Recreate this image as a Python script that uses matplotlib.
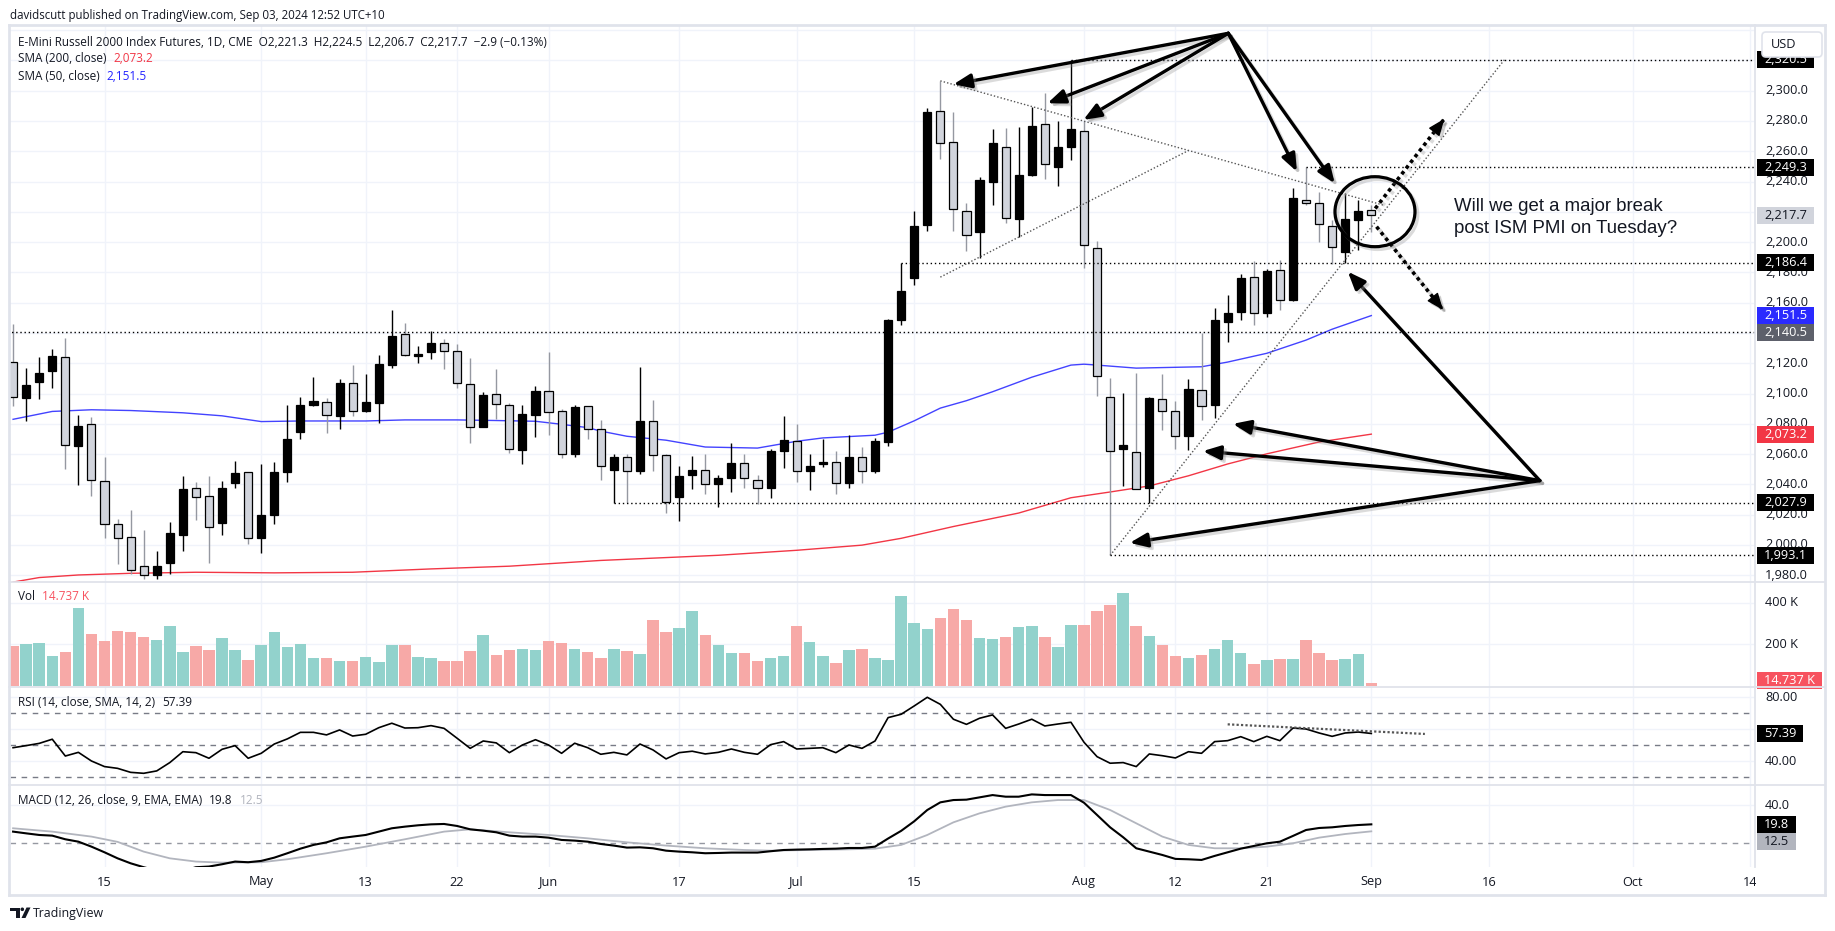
import numpy as np
import pandas as pd
import matplotlib
matplotlib.use('Agg')
import matplotlib.pyplot as plt
import matplotlib.transforms as mtransforms
import matplotlib.patheffects as pe
from matplotlib.patches import Rectangle, Ellipse, FancyBboxPatch, Polygon, Circle
from matplotlib.lines import Line2D

# ---------------------------------------------------------------- data
holidays = ['2024-05-27', '2024-06-19', '2024-07-04', '2024-09-02']
calendar = pd.bdate_range('2024-04-04', '2024-10-16', freq='C', holidays=holidays)
last_date = pd.Timestamp('2024-09-03')

opens = [2120.6, 2097.1, 2107.6, 2115.0, 2124.4, 2065.4, 2079.7, 2042.1, 2014.0, 2005.5,
         1985.8, 1980.2, 1988.0, 2006.6, 2037.9, 2032.5, 2014.4, 2041.0, 2047.9, 2004.8,
         2020.0, 2048.4, 2074.7, 2092.6, 2094.2, 2085.3, 2107.2, 2088.6, 2093.7, 2119.0,
         2139.6, 2125.0, 2127.7, 2133.5, 2128.4, 2106.5, 2078.1, 2100.0, 2092.6, 2062.5,
         2085.9, 2102.0, 2088.2, 2060.2, 2091.5, 2076.5, 2049.5, 2058.0, 2048.6, 2081.9,
         2059.1, 2031.6, 2046.4, 2049.7, 2040.1, 2044.1, 2054.0, 2042.8, 2037.9, 2061.8,
         2068.5, 2049.1, 2053.5, 2054.9, 2040.8, 2058.4, 2048.6, 2068.0, 2148.5, 2176.0,
         2211.1, 2286.4, 2265.8, 2220.7, 2206.6, 2239.7, 2263.1, 2215.5, 2244.6, 2277.7,
         2249.9, 2263.1, 2273.2, 2195.9, 2097.5, 2063.6, 2061.3, 2037.9, 2096.4, 2088.6,
         2071.8, 2102.2, 2092.6, 2147.4, 2154.1, 2177.1, 2153.0, 2181.6, 2161.5, 2227.8,
         2225.6, 2210.6, 2193.6, 2214.4, 2221.3]
highs = [2145.8, 2116.8, 2123.9, 2129.5, 2136.6, 2085.9, 2084.3, 2058.0, 2017.3, 2022.9,
         2010.0, 1996.1, 2015.5, 2045.7, 2041.7, 2045.3, 2042.3, 2055.3, 2048.5, 2053.5,
         2054.6, 2092.2, 2097.5, 2111.0, 2097.1, 2109.4, 2118.8, 2113.2, 2125.7, 2155.2,
         2146.3, 2131.1, 2141.1, 2136.2, 2132.4, 2123.2, 2100.9, 2116.1, 2093.7, 2092.2,
         2104.9, 2127.3, 2089.7, 2092.2, 2091.8, 2082.6, 2060.2, 2060.2, 2117.7, 2096.0,
         2060.0, 2052.0, 2058.7, 2060.2, 2046.4, 2067.4, 2059.8, 2046.4, 2063.6, 2085.3,
         2079.7, 2059.8, 2069.8, 2061.8, 2072.5, 2064.7, 2070.7, 2149.0, 2186.4, 2220.4,
         2288.6, 2306.5, 2285.9, 2225.6, 2243.0, 2274.7, 2275.4, 2275.9, 2289.3, 2298.2,
         2279.7, 2320.5, 2280.3, 2201.0, 2110.5, 2100.4, 2113.4, 2097.5, 2112.7, 2095.3,
         2109.8, 2140.2, 2156.8, 2165.3, 2178.7, 2187.6, 2182.0, 2188.0, 2235.6, 2249.3,
         2233.4, 2214.4, 2232.3, 2227.8, 2224.5]
lows = [2091.5, 2081.9, 2096.4, 2103.8, 2050.2, 2039.7, 2032.3, 2004.4, 1987.2, 1980.9,
        1977.5, 1977.5, 1980.9, 1996.1, 2016.2, 1988.3, 2006.6, 2037.4, 2000.6, 1994.7,
        2013.7, 2041.9, 2069.8, 2091.5, 2074.1, 2076.5, 2085.3, 2087.7, 2080.8, 2117.2,
        2125.0, 2119.9, 2122.8, 2116.5, 2103.4, 2067.4, 2077.6, 2083.0, 2060.7, 2053.5,
        2071.4, 2072.5, 2057.3, 2058.0, 2070.3, 2043.0, 2027.9, 2028.0, 2046.8, 2048.6,
        2021.1, 2016.0, 2036.8, 2033.4, 2025.1, 2035.0, 2037.4, 2027.2, 2031.2, 2050.8,
        2041.9, 2036.3, 2051.7, 2033.4, 2037.4, 2040.8, 2047.8, 2065.4, 2145.1, 2172.0,
        2207.3, 2254.6, 2207.3, 2194.3, 2189.8, 2224.5, 2212.6, 2203.2, 2244.0, 2241.9,
        2237.2, 2254.0, 2183.1, 2098.2, 1993.1, 2039.0, 2037.0, 2027.9, 2075.9, 2063.6,
        2062.5, 2082.6, 2083.7, 2134.0, 2148.5, 2145.1, 2150.7, 2155.2, 2160.9, 2224.5,
        2199.9, 2185.4, 2186.5, 2195.0, 2206.7]
closes = [2097.5, 2105.4, 2113.9, 2124.6, 2066.3, 2078.8, 2042.6, 2014.0, 2004.8, 1983.6,
          1980.2, 1985.8, 2007.7, 2036.8, 2031.8, 2011.7, 2037.9, 2047.3, 2004.4, 2019.6,
          2047.9, 2070.3, 2092.6, 2094.9, 2085.9, 2106.7, 2088.2, 2094.2, 2119.4, 2138.0,
          2125.7, 2126.0, 2133.3, 2128.4, 2106.7, 2078.1, 2098.9, 2093.3, 2063.6, 2086.4,
          2102.0, 2087.5, 2060.2, 2090.8, 2076.3, 2052.4, 2058.4, 2049.1, 2082.0, 2059.6,
          2028.5, 2045.7, 2049.7, 2040.1, 2044.1, 2054.0, 2044.0, 2037.9, 2061.8, 2069.6,
          2049.1, 2052.0, 2054.6, 2040.8, 2058.4, 2048.6, 2068.5, 2148.5, 2167.5, 2210.6,
          2285.9, 2265.4, 2221.6, 2204.4, 2240.8, 2265.4, 2216.2, 2244.1, 2276.5, 2251.3,
          2262.5, 2274.7, 2198.1, 2111.6, 2061.8, 2065.8, 2037.2, 2097.1, 2088.2, 2071.8,
          2102.7, 2091.5, 2148.5, 2153.0, 2176.0, 2153.0, 2180.9, 2161.9, 2228.9, 2225.6,
          2211.7, 2196.5, 2215.1, 2220.6, 2217.7]
volume_k = [192.0, 201.6, 206.4, 144.0, 164.8, 374.4, 249.6, 216.0, 264.0, 259.2,
            235.2, 220.8, 288.0, 163.2, 192.0, 172.8, 230.4, 172.8, 124.8, 196.8,
            259.2, 187.2, 201.6, 134.4, 134.4, 120.0, 120.0, 139.2, 115.2, 196.8,
            196.8, 139.2, 134.4, 120.0, 120.0, 168.0, 244.8, 148.8, 172.8, 177.6,
            172.8, 216.0, 206.4, 177.6, 163.2, 134.4, 177.6, 168.0, 153.6, 316.8,
            259.2, 278.4, 360.0, 244.8, 196.8, 158.4, 158.4, 120.0, 134.4, 144.0,
            288.0, 211.2, 144.0, 110.4, 172.8, 177.6, 134.4, 124.8, 432.0, 302.4,
            273.6, 326.4, 369.6, 316.8, 230.4, 225.6, 235.2, 283.2, 288.0, 235.2,
            187.2, 292.8, 292.8, 360.0, 388.8, 446.4, 288.0, 240.0, 196.8, 144.0,
            134.4, 148.8, 177.6, 220.8, 158.4, 105.6, 124.8, 129.6, 129.6, 220.8,
            158.4, 124.8, 129.6, 153.6, 14.737]
rsi = [48.5, 49.8, 51.2, 53.8, 43.3, 45.6, 40.2, 36.7, 35.6, 33.1,
       32.5, 34.0, 39.2, 46.0, 45.4, 41.9, 47.5, 49.8, 41.9, 45.0,
       50.8, 54.0, 58.1, 58.1, 56.5, 59.6, 55.8, 56.9, 61.0, 63.8,
       60.8, 61.0, 62.3, 60.6, 54.4, 48.1, 52.7, 51.5, 45.4, 50.2,
       53.5, 50.2, 45.0, 51.3, 48.5, 44.4, 45.6, 44.0, 50.8, 47.1,
       41.5, 45.4, 46.3, 44.6, 45.6, 47.7, 45.6, 44.4, 50.4, 52.3,
       47.7, 48.1, 48.5, 45.4, 50.2, 48.1, 52.7, 67.3, 69.4, 74.6,
       80.0, 75.6, 66.3, 63.1, 66.9, 69.0, 60.6, 63.3, 66.3, 62.1,
       63.3, 64.4, 51.9, 42.9, 38.8, 39.2, 36.7, 44.6, 43.5, 42.1,
       46.0, 45.0, 52.3, 52.9, 55.4, 52.3, 55.6, 52.9, 60.8, 60.2,
       57.7, 55.6, 57.7, 58.3, 57.39]
macd = [12.2, 10.4, 8.7, 8.0, 4.2, 1.7, -3.5, -9.4, -15.7, -20.9,
        -25.0, -28.5, -30.0, -29.0, -25.0, -24.3, -21.9, -19.1, -19.8, -18.4,
        -15.0, -10.4, -5.6, -1.7, 1.0, 5.2, 7.0, 8.7, 12.2, 15.7,
        17.4, 18.8, 19.8, 20.2, 18.1, 14.6, 13.2, 11.5, 8.0, 7.0,
        7.0, 5.9, 3.5, 2.8, 1.7, -0.7, -2.4, -4.5, -4.2, -5.2,
        -7.7, -8.7, -9.4, -10.4, -10.1, -9.7, -9.7, -9.7, -8.3, -7.0,
        -6.6, -6.3, -5.9, -5.6, -4.9, -4.9, -3.5, 5.0, 13.0, 23.0,
        34.8, 42.8, 45.2, 45.6, 48.0, 50.4, 48.7, 48.7, 51.1, 50.4,
        50.4, 50.4, 42.4, 29.6, 16.7, 6.3, -5.2, -8.7, -12.2, -16.3,
        -16.7, -17.4, -13.2, -9.4, -5.6, -2.8, 0.0, 1.7, 7.7, 13.9,
        16.0, 16.7, 18.1, 19.1, 19.8]
signal_idx = [0, 3, 6, 8, 10, 12, 14, 16, 19, 21, 24, 27, 30, 33, 35, 38, 41, 44, 47, 50,
              53, 56, 58, 61, 64, 66, 68, 70, 72, 74, 76, 78, 80, 82, 84, 86, 88, 90, 92,
              94, 96, 98, 100, 102, 104]
signal_val = [15.7, 12.2, 7.0, 1.5, -8.7, -15.7, -19.1, -20.2, -19.8, -16.7, -10.4, -3.5,
              4.2, 12.2, 14.6, 11.5, 8.7, 5.2, 1.0, -2.4, -5.2, -7.0, -7.7, -7.0, -6.3,
              -5.6, -1.7, 8.7, 21.9, 31.3, 38.3, 42.8, 45.2, 45.2, 34.8, 20.9, 7.0, -1.7,
              -5.2, -5.2, -3.5, 0.0, 5.9, 9.7, 12.5]
sma50_idx = [0, 3, 6, 9, 13, 16, 19, 22, 27, 30, 34, 37, 40, 42, 44, 45, 47, 50, 53, 57,
             60, 62, 66, 67, 69, 71, 73, 75, 78, 81, 82, 83, 86, 91, 93, 96, 99, 101, 104]
sma50_val = [2083.0, 2088.2, 2089.3, 2088.8, 2087.3, 2085.3, 2081.5, 2081.9, 2081.9, 2082.6,
             2082.6, 2082.2, 2081.7, 2079.7, 2077.5, 2075.2, 2071.8, 2069.2, 2064.7, 2064.0,
             2068.5, 2070.7, 2072.5, 2074.5, 2082.0, 2090.4, 2095.3, 2101.2, 2110.8, 2118.8,
             2119.4, 2118.8, 2116.8, 2117.7, 2120.8, 2126.6, 2135.3, 2142.5, 2151.5]
sma200_idx = [0, 2, 5, 9, 14, 20, 26, 32, 38, 45, 54, 60, 65, 68, 72, 77, 81, 84, 87, 90,
              93, 96, 100, 104]
sma200_val = [1975.5, 1978.5, 1980.2, 1981.3, 1982.0, 1981.6, 1982.0, 1984.2, 1986.0,
              1989.8, 1993.2, 1996.5, 1999.9, 2004.4, 2012.2, 2021.1, 2031.2, 2035.0,
              2039.0, 2045.7, 2053.5, 2060.2, 2068.0, 2073.2]
tick_dates = ['2024-04-15', '2024-05-01', '2024-05-13', '2024-05-22', '2024-06-03',
              '2024-06-17', '2024-07-01', '2024-07-15', '2024-08-01', '2024-08-12',
              '2024-08-21', '2024-09-03', '2024-09-16', '2024-10-01', '2024-10-14']
tick_labels = ['15', 'May', '13', '22', 'Jun', '17', 'Jul', '15', 'Aug', '12', '21',
               'Sep', '16', 'Oct', '14']
# horizontal drawing levels (price, start date or None = from left edge)
level_prices = [2320.5, 2249.3, 2186.4, 2140.5, 2027.9, 1993.1]
level_starts = ['2024-07-31', '2024-08-26', '2024-07-12', None, '2024-06-10', '2024-08-05']
# drawing anchors (bar index, price)
trend_lines = [((71, 2306.5), (104.9, 2224.5)),
               ((71, 2176.9), (90.0, 2260.5)),
               ((84, 1993.1), (114.2, 2320.5))]
top_apex = (93.05, 2337.9)
top_targets = [(72.0, 2304.2), (79.2, 2291.7), (81.95, 2280.7), (98.3, 2246.6), (101.2, 2238.8)]
low_apex = (116.9, 2042.5)
low_targets = [(102.2, 2180.5), (93.4, 2080.0), (91.1, 2062.0), (85.5, 2001.4)]
dotted_arrows = [((104.3, 2222.2), (109.6, 2281.5)), ((104.4, 2210.2), (109.5, 2155.2))]
circle_center = (104.28, 2220.1)
rsi_trend = ((93.0, 63.1), (108.1, 57.1))
note_lines = ['Will we get a major break', 'post ISM PMI on Tuesday?']

header = 'davidscutt published on TradingView.com, Sep 03, 2024 12:52 UTC+10'
legend1 = ('E-Mini Russell 2000 Index Futures, 1D, CME  O2,221.3  H2,224.5  '
           'L2,206.7  C2,217.7  \u22122.9 (\u22120.13%)')

# ---------------------------------------------------------------- figure
W, H = 1835, 931
fig = plt.figure(figsize=(W / 100, H / 100), dpi=100)
fig.patch.set_facecolor('white')
ID = mtransforms.IdentityTransform()
R = fig.canvas.get_renderer()
UI = ['Open Sans', 'DejaVu Sans']
NOTE = ['Liberation Sans', 'DejaVu Sans']
TXT = '#131722'
GRID = '#f0f3fa'
BORDER = '#e0e3eb'

PL, PR = 10, 1755
X0, DX = 13.08, 13.06
XL = ((PL - X0) / DX, (PR - X0) / DX)


def pane(y0, y1, ylim):
    a = fig.add_axes([PL / W, 1 - y1 / H, (PR - PL) / W, (y1 - y0) / H])
    a.set_axis_off()
    a.set_xlim(*XL)
    a.set_ylim(*ylim)
    return a


ax = pane(25, 582, (1975.56, 2343.39))
axv = pane(582, 687, (-4.8, 500))
axr = pane(687, 785, (25.19, 86.44))
axm = pane(785, 867, (-24.77, 60.92))

n = calendar.get_loc(last_date) + 1
x = np.arange(n)
o, h, l, c = (np.array(v) for v in (opens, highs, lows, closes))
up = c >= o
tick_idx = [calendar.get_loc(pd.Timestamp(d)) for d in tick_dates]

# grid
for a in (ax, axv, axr, axm):
    for t in tick_idx:
        a.axvline(t, color=GRID, lw=1, zorder=0)
for p in range(1980, 2341, 20):
    ax.axhline(p, color=GRID, lw=1, zorder=0)
for v in (200, 400):
    axv.axhline(v, color=GRID, lw=1, zorder=0)
for v in (80, 60, 40):
    axr.axhline(v, color=GRID, lw=1, zorder=0)
axm.axhline(40, color=GRID, lw=1, zorder=0)

# candles
wick_cols = np.where(up, 'black', '#9598a1')
ax.vlines(x, l, h, colors=wick_cols, lw=1.0, zorder=2)
ax.bar(x, np.maximum(np.abs(c - o), 0.5), bottom=np.minimum(o, c), width=0.62,
       color=np.where(up, 'black', '#d1d4dc'), edgecolor='black', linewidth=0.9, zorder=3)

# moving averages
ax.plot(sma50_idx, sma50_val, color='#4343ff', lw=1.0, zorder=1.5)
ax.plot(sma200_idx, sma200_val, color='#f23645', lw=1.0, zorder=1.5)

# levels & trend lines
for p, s in zip(level_prices, level_starts):
    xs = calendar.get_loc(pd.Timestamp(s)) if s else XL[0] - 1
    ax.hlines(p, xs, XL[1] + 1, colors='black', linestyles=(0, (1, 2)), lw=1.0, zorder=4)
for (a0, a1) in trend_lines:
    ax.plot([a0[0], a1[0]], [a0[1], a1[1]], color='#555555', lw=1.0, ls=(0, (1, 1.5)), zorder=4)

SH = '#8a8a8a'
line_shadow = pe.SimpleLineShadow(offset=(2, -2), shadow_color=SH, alpha=0.3)
shadow = [line_shadow,
          pe.SimplePatchShadow(offset=(2, -2), shadow_rgbFace=SH, alpha=0.3),
          pe.Normal()]


def arrow(p0, p1, lw=2.4):
    an = ax.annotate('', xy=p1, xytext=p0, zorder=6,
                     arrowprops=dict(arrowstyle='-|>,head_length=0.7,head_width=0.28',
                                     lw=lw, color='black', mutation_scale=15,
                                     shrinkA=0, shrinkB=0))
    an.arrow_patch.set_path_effects(shadow)


for t in top_targets:
    arrow(top_apex, t)
for t in low_targets:
    arrow(low_apex, t)
for p0, p1 in dotted_arrows:
    # dotted shaft, then a solid head on the last short stretch
    ln, = ax.plot([p0[0], p1[0]], [p0[1], p1[1]], color='black', lw=2.6,
                  ls=(0, (1.0, 1.0)), dash_capstyle='butt', zorder=6)
    ln.set_path_effects([line_shadow, pe.Normal()])
    q = (p1[0] - 0.08 * (p1[0] - p0[0]), p1[1] - 0.08 * (p1[1] - p0[1]))
    arrow(q, p1, lw=1.0)

ell = Ellipse(circle_center, 80 / DX, 70 / 1.5143, fill=False, ec='black', lw=2.3, zorder=6)
ell.set_path_effects([pe.SimpleLineShadow(offset=(2, -2), shadow_color=SH, alpha=0.3),
                      pe.Normal()])
ax.add_patch(ell)


def tw(s, fs, fam, weight='normal'):
    t = fig.text(0, 0, s, fontsize=fs, family=fam, weight=weight, transform=ID)
    w = t.get_window_extent(R).width
    t.remove()
    return w


fs_note = 10 * 210 / tw(note_lines[0], 10, NOTE)
note_x = (1454 - X0) / DX
ax.text(note_x, 2220.6, note_lines[0], fontsize=fs_note, family=NOTE, color=TXT, va='baseline', zorder=6)
ax.text(note_x, 2205.8, note_lines[1], fontsize=fs_note, family=NOTE, color=TXT, va='baseline', zorder=6)

# volume
axv.bar(x, volume_k, width=0.88, color=np.where(up, '#92d2cc', '#f7a9a7'), zorder=2)

# RSI
for v in (70, 50, 30):
    axr.axhline(v, color='#787b86', lw=1.0, ls=(0, (4, 4)), zorder=1)
axr.plot(x, rsi, color='black', lw=1.2, zorder=3)
axr.plot([rsi_trend[0][0], rsi_trend[1][0]], [rsi_trend[0][1], rsi_trend[1][1]],
         color='#555555', lw=1.6, ls=(0, (1, 1)), zorder=3)

# MACD
axm.axhline(0, color='#9598a1', lw=1.0, ls=(0, (4, 4)), zorder=1)
axm.plot(signal_idx, signal_val, color='#b2b5be', lw=1.3, zorder=2)
axm.plot(x, macd, color='black', lw=1.5, zorder=3)

# ---------------------------------------------------------------- texts & axes
fs_axis = 10 * 43 / tw('2,300.0', 10, UI)
fs_head = 10 * 375 / tw(header, 10, UI)
fs_leg = 10 * 529 / tw(legend1, 10, UI)
fs_logo = 10 * 71 / tw('TradingView', 10, UI)


def Y(top):
    return H - top


def ydisp(a, v):
    return a.transData.transform((0, v))[1]


def ftext(xp, yp, s, fs, col=TXT, ha='left', va='center', fam=UI, z=5, weight='normal'):
    return fig.text(xp, yp, s, transform=ID, fontsize=fs, color=col, ha=ha, va=va,
                    family=fam, zorder=z, weight=weight)


def runs(xp, top, parts, fs, gap=7):
    for s, col in parts:
        t = ftext(xp, Y(top), s, fs, col)
        xp = t.get_window_extent(R).x1 + gap


ftext(9.8, Y(15), header, fs_head)
ftext(18, Y(42), legend1, fs_leg)
runs(18, 59, [('SMA (200, close)', TXT), ('2,073.2', '#f23645')], fs_leg)
runs(18, 76, [('SMA (50, close)', TXT), ('2,151.5', '#2424ff')], fs_leg)
runs(18, 597, [('Vol', TXT), ('14.737 K', '#f7525f')], fs_leg)
runs(18, 703, [('RSI (14, close, SMA, 14, 2)', TXT), ('57.39', TXT)], fs_leg)
runs(18, 801, [('MACD (12, 26, close, 9, EMA, EMA)', TXT), ('19.8', TXT), ('12.5', '#b2b5be')], fs_leg)

# price-scale value labels (boxes): (display y, text, background, text colour)
boxes = [
    (ydisp(ax, 2320.5), '2,320.5', 'black', 'white'),
    (ydisp(ax, 2249.3), '2,249.3', 'black', 'white'),
    (ydisp(ax, closes[-1]), '2,217.7', '#d1d4dc', TXT),
    (ydisp(ax, 2186.4), '2,186.4', 'black', 'white'),
    (ydisp(ax, sma50_val[-1]), '2,151.5', '#2a2aff', 'white'),
    (ydisp(ax, 2140.5), '2,140.5', '#5d606b', 'white'),
    (ydisp(ax, sma200_val[-1]), '2,073.2', '#f23645', 'white'),
    (ydisp(ax, 2027.9), '2,027.9', 'black', 'white'),
    (ydisp(ax, 1993.1), '1,993.1', 'black', 'white'),
    (max(ydisp(axv, volume_k[-1]), Y(680)), '14.737 K', '#f7525f', 'white'),
    (ydisp(axr, rsi[-1]), '57.39', 'black', 'white'),
    (ydisp(axm, macd[-1]), '19.8', 'black', 'white'),
    (min(ydisp(axm, signal_val[-1]), ydisp(axm, macd[-1]) - 17), '12.5', '#b2b5be', TXT),
]
box_y = [b[0] for b in boxes]


def tick_label(yp, s):
    # a tick label hidden behind a value box is not drawn (as on the reference)
    if min(abs(yp - by) for by in box_y) < 8:
        return
    ftext(1765, yp, s, fs_axis)


for p in range(1980, 2321, 20):
    tick_label(ydisp(ax, p), f'{p:,.1f}')
for v, s in ((400, '400 K'), (200, '200 K')):
    tick_label(ydisp(axv, v), s)
for v in (80, 60, 40):
    tick_label(ydisp(axr, v), f'{v:.2f}')
for v in (40, 20, 0):
    tick_label(ydisp(axm, v), f'{v:.1f}')

for yp, s, bg, fg in boxes:
    t = ftext(1764, yp, s, fs_axis, fg, z=11)
    w = t.get_window_extent(R).width
    fig.add_artist(Rectangle((1757, yp - 8.5), w + 14, 17, transform=ID, fc=bg, ec='none', zorder=10))

# USD box
fig.add_artist(FancyBboxPatch((1762, Y(57)), 60, 25, boxstyle='round,pad=0,rounding_size=4',
                              transform=ID, fc='white', ec=BORDER, lw=1.2, zorder=12))
ftext(1771, Y(44.5), 'USD', fs_axis, z=13)

# time axis labels
for t, s in zip(tick_idx, tick_labels):
    xp = axm.transData.transform((t, 0))[0]
    ftext(xp, Y(882), s, fs_axis, ha='center', z=5)
fig.add_artist(Rectangle((PR + 1, Y(894)), 1824 - PR, 27, transform=ID, fc='white', ec='none', zorder=9))


# frame & separators
def hline(top, x0, x1, lw=1.3):
    fig.add_artist(Line2D([x0, x1], [Y(top), Y(top)], transform=ID, color=BORDER, lw=lw, zorder=14))


def vline(xp, t0, t1, lw=1.3):
    fig.add_artist(Line2D([xp, xp], [Y(t0), Y(t1)], transform=ID, color=BORDER, lw=lw, zorder=14))


hline(25, 9, 1825, 2.0)
hline(895, 9, 1825, 2.0)
vline(9, 25, 895, 2.0)
vline(1825, 25, 895, 2.0)
for tp in (582, 687, 785):
    hline(tp, 9, 1825)
vline(PR, 25, 867)

# TradingView logo
fig.add_artist(Polygon([(9.5, Y(907.5)), (19.5, Y(907.5)), (19.5, Y(918)), (15.5, Y(918)),
                        (15.5, Y(911)), (9.5, Y(911))], closed=True, transform=ID,
                       fc=TXT, ec='none', zorder=5))
fig.add_artist(Circle((22.3, Y(909.3)), 1.8, transform=ID, fc=TXT, ec='none', zorder=5))
fig.add_artist(Polygon([(21.5, Y(918)), (25.5, Y(918)), (30.5, Y(907.5)), (26.5, Y(907.5))],
                       closed=True, transform=ID, fc=TXT, ec='none', zorder=5))
ftext(33, Y(913), 'TradingView', fs_logo)

fig.savefig('out.png', dpi=100)
